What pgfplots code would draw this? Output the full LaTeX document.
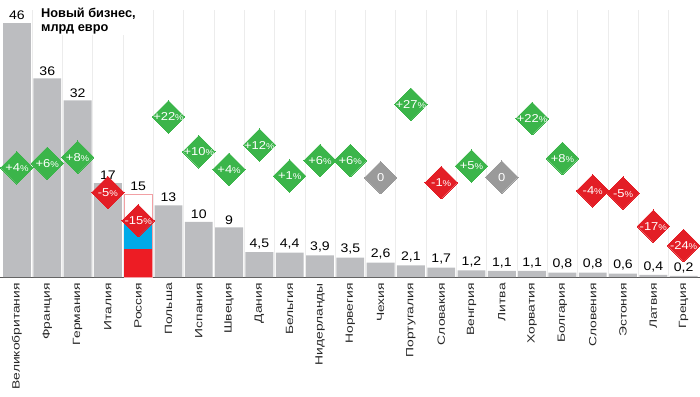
\documentclass[border=0pt]{standalone}
\usepackage{fontspec}
\setmainfont{Liberation Sans}
\newfontfamily\lblfont[FakeStretch=1.32]{Liberation Sans}
\newfontfamily\numfont[FakeStretch=1.13]{Liberation Sans}
\usepackage{pgfplots}
\pgfplotsset{compat=1.18}
\definecolor{bargray}{HTML}{BCBDC0}
\definecolor{dgreen}{HTML}{3BB54A}
\definecolor{dred}{HTML}{E31E26}
\definecolor{dgray}{HTML}{9A9A9A}
\definecolor{rublue}{HTML}{00AAE8}
\definecolor{rured}{HTML}{ED1C24}
\definecolor{rupink}{HTML}{F2A0A4}
\definecolor{gridc}{HTML}{ECECEC}
\begin{document}
\begin{tikzpicture}
\begin{axis}[
  scale only axis, width=700bp, height=277bp,
  xmin=-0.56, xmax=22.54, ymin=0, ymax=50.2,
  clip=false,
  axis x line*=bottom, axis y line=none,
  x axis line style={-, draw=black!65, line width=0.7bp},
  ytick=\empty,
  xtick={0,...,22}, major tick length=0pt,
  xticklabels={Великобритания,Франция,Германия,Италия,Россия,Польша,Испания,Швеция,Дания,Бельгия,Нидерланды,Норвегия,Чехия,Португалия,Словакия,Венгрия,Литва,Хорватия,Болгария,Словения,Эстония,Латвия,Греция},
  xticklabel style={rotate=90, anchor=east, inner sep=0pt, text=black!85,
    font=\lblfont\fontsize{10.5}{11}\selectfont},
  xticklabel shift=6bp,
]
% faint vertical separators
\pgfplotsinvokeforeach{0.5,1.5,...,21.5}{
  \draw[gridc, line width=0.6bp] (axis cs:#1,0) -- (axis cs:#1,48.4);
}
% grey bars with value labels
\addplot[ybar, bar width=0.92, fill=bargray, draw=none,
  nodes near coords, point meta=explicit symbolic,
  every node near coord/.append style={anchor=south, inner sep=0pt, yshift=3bp, text=black,
    font=\numfont\fontsize{12.5}{13}\selectfont}]
coordinates {
(0,46) [46] (1,36) [36] (2,32) [32] (3,17) [17] (4,15) [15] (5,13) [13]
(6,10) [10] (7,9) [9] (8,4.5) [4,5] (9,4.4) [4,4] (10,3.9) [3,9] (11,3.5) [3,5]
(12,2.6) [2,6] (13,2.1) [2,1] (14,1.7) [1,7] (15,1.2) [1,2] (16,1.1) [1,1]
(17,1.1) [1,1] (18,0.8) [0,8] (19,0.8) [0,8] (20,0.6) [0,6] (21,0.4) [0,4] (22,0.2) [0,2]
};
% Russia flag bar
\addplot[ybar, bar width=0.92, fill=white, draw=rupink, line width=0.7bp] coordinates {(4,15)};
\addplot[ybar, bar width=0.92, fill=rublue, draw=none] coordinates {(4,10)};
\addplot[ybar, bar width=0.92, fill=rured, draw=none] coordinates {(4,5)};
% diamonds
\pgfplotsset{diam/.style={only marks, color=#1, mark=square*, mark size=11.5bp,
    mark options={rotate=45, fill=#1, draw=#1, line width=0pt},
    point meta=explicit symbolic,
    every node near coord/.append style={anchor=center, inner sep=0pt, text=white,
      font=\numfont\fontsize{11.5}{12}\selectfont}}}
\addplot[diam=dgreen, nodes near coords={\pgfplotspointmeta{\fontsize{8.5}{8}\selectfont\%}}]
coordinates {
(0,19.8) [+4] (1,20.6) [+6] (2,21.7) [+8] (5,29.0) [+22] (6,22.7) [+10] (7,19.5) [+4]
(8,23.9) [+12] (9,18.3) [+1] (10,21.1) [+6] (11,21.1) [+6] (13,31.3) [+27]
(15,20.1) [+5] (17,28.7) [+22] (18,21.5) [+8]
};
\addplot[diam=dred, nodes near coords={\pgfplotspointmeta{\fontsize{8.5}{8}\selectfont\%}}]
coordinates {
(3,15.3) [-5] (4,10.2) [-15] (14,17.1) [-1] (19,15.6) [-4] (20,15.2) [-5]
(21,9.2) [-17] (22,5.7) [-24]
};
\addplot[diam=dgray, nodes near coords={\pgfplotspointmeta}]
coordinates {(12,18.0) [0] (16,18.1) [0]};
% title
\node[anchor=north west, fill=white, inner sep=1bp, align=left,
  font=\bfseries\fontsize{12.8}{14}\selectfont]
  at (rel axis cs:0,1) [xshift=40bp, yshift=-7bp] {Новый бизнес,\\млрд евро};
\end{axis}
\pgfresetboundingbox
\path[use as bounding box] (current axis.south west) ++(0,-120bp) rectangle (current axis.north east);
\end{tikzpicture}
\end{document}
